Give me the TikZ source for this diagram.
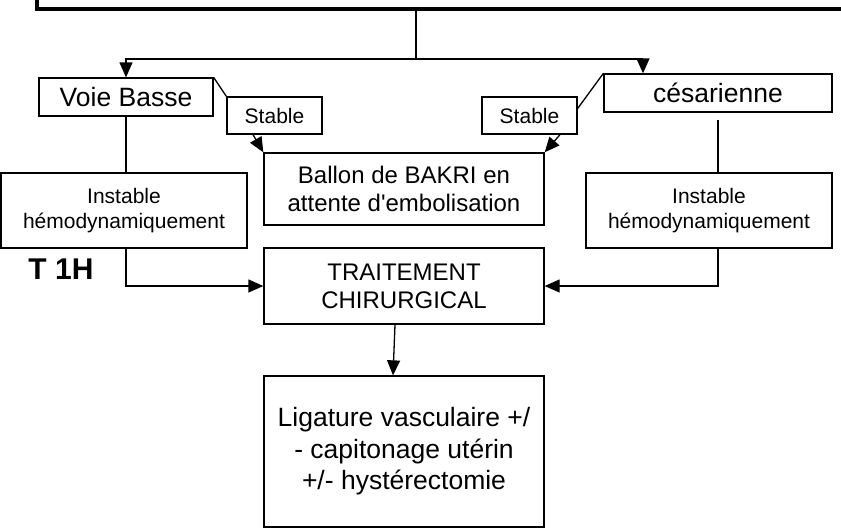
\documentclass[tikz,border=0pt]{standalone}
\usepackage{fontspec}
\setmainfont{Liberation Sans}
\usetikzlibrary{arrows.meta}

\begin{document}
\begin{tikzpicture}[x=1pt, y=-1pt,
  every node/.style={draw, line width=1.3pt, inner sep=0pt, align=center},
  box/.style 2 args={minimum width=#1pt, minimum height=#2pt},
  big/.style={font=\fontsize{26.5}{31.5}\selectfont},
  mid/.style={font=\fontsize{24}{28}\selectfont},
  small/.style={font=\fontsize{21}{25}\selectfont},
  conn/.style={line width=1.3pt},
  arr/.style={conn, -{Triangle[length=15pt, width=13pt]}}
]
\useasboundingbox (0,0) rectangle (841,528);

\node[box={863}{49}, line width=4pt] (top) at (468.5,-15.5) {};
\coordinate (split) at (416,59);

\node[box={174}{38}, big] (vb) at (126,97) {Voie Basse};
\node[box={228}{38}, big] (ces) at (718,93) {césarienne};
\node[box={95}{37}, small] (st1) at (274.5,115.5) {Stable};
\node[box={95}{37}, small] (st2) at (529.5,115.5) {Stable};
\node[box={280}{72}, mid] (ballon) at (404,189) {Ballon de BAKRI en\\attente d\textquotesingle embolisation};
\node[box={246}{75}, small] (ins1) at (124,210.5) {Instable\\hémodynamiquement};
\node[box={246}{75}, small] (ins2) at (709,210.5) {Instable\\hémodynamiquement};
\node[draw=none, font=\fontsize{30}{36}\selectfont\bfseries] (t1h) at (61,269) {T 1H};
\node[box={280}{76}, mid] (trait) at (404,286) {TRAITEMENT\\CHIRURGICAL};
\node[box={280}{151}, big] (lig) at (404,451.5) {Ligature vasculaire +/\\- capitonage utérin\\+/- hystérectomie};

\draw[conn] (top.south -| split) -- (split);
\draw[arr] (split) -| (vb.north);
\draw[arr] (split) -| ([xshift=-75pt]ces.north);
\draw[conn] (vb.north east) -- (st1.north west);
\draw[conn] (ces.north west) -- ([yshift=7pt]st2.east);
\draw[arr] ([xshift=-21.5pt]st1.south) -- (ballon.north west);
\draw[arr] ([xshift=30.5pt]st2.south) -- (ballon.north east);
\draw[conn] (vb.south) -- (vb.south |- ins1.north);
\draw[arr] (ins1.south -| vb.south) |- (trait.west);
\draw[conn] ([yshift=-7pt]ces.south) -- (ces.south |- ins2.north);
\draw[arr] (ins2.south -| ces.south) |- (trait.east);
\draw[arr] ([xshift=-9pt]trait.south) -- ([xshift=-11pt]lig.north);
\end{tikzpicture}
\end{document}
